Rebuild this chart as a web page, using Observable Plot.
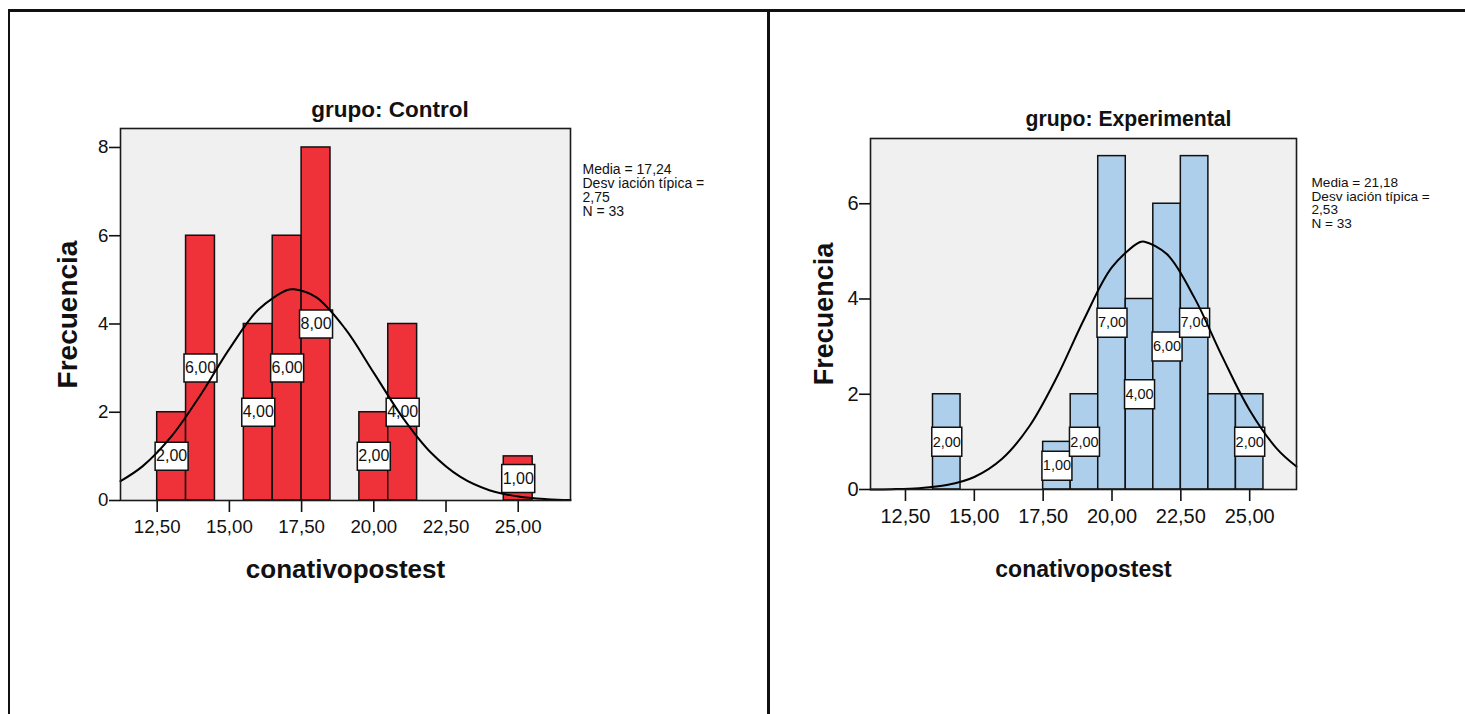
<!DOCTYPE html>
<html><head><meta charset="utf-8">
<script src="https://cdn.jsdelivr.net/npm/d3@7"></script>
<script src="https://cdn.jsdelivr.net/npm/@observablehq/plot@0.6"></script>
<style>
html,body{margin:0;padding:0;background:#fff;width:1465px;height:714px;overflow:hidden;}
#left,#right{position:absolute;top:0;}
#left{left:0;} #right{left:771px;}
.rule{position:absolute;background:#111;z-index:5;}
g[aria-label="stats legend"] text{letter-spacing:1.1px;}
</style></head><body>
<div id="left"></div><div id="right"></div>
<div class="rule" style="left:8px;top:9px;width:1457px;height:2.5px"></div>
<div class="rule" style="left:8px;top:9px;width:2px;height:705px"></div>
<div class="rule" style="left:767px;top:9px;width:3px;height:705px"></div>
<script>
// ---- data ----
const variableName = "conativopostest";
const yLabel = "Frecuencia";
const groupTitles = ["grupo: Control", "grupo: Experimental"];
const controlBins = [13, 14, 16, 17, 18, 20, 21, 25];          // bin centres (width 1)
const controlCounts = [2, 6, 4, 6, 8, 2, 4, 1];
const controlLabelBins = [13, 14, 16, 17, 18, 20, 21, 25];
const experimentalBins = [14, 18, 19, 20, 21, 22, 23, 24, 25];
const experimentalCounts = [2, 1, 2, 7, 4, 6, 7, 2, 2];
const experimentalLabelBins = [14, 18, 19, 20, 21, 22, 23, 25];
const means = [17.24, 21.18];
const stdDevs = [2.75, 2.53];
const ns = [33, 33];
const xTicks = [12.5, 15, 17.5, 20, 22.5, 25];
const controlYTicks = [0, 2, 4, 6, 8];
const experimentalYTicks = [0, 2, 4, 6];
// normal curve points
const controlCurveX = [11.23, 12, 13, 14, 15, 16, 17, 17.24, 18, 19, 20, 21, 22, 23, 24, 25, 26, 26.81];
const controlCurveY = [0.439, 0.779, 1.458, 2.391, 3.435, 4.324, 4.769, 4.787, 4.608, 3.900, 2.893, 1.880, 1.070, 0.534, 0.233, 0.089, 0.030, 0.011];
const experimentalCurveX = [11.23, 12, 13, 14, 15, 16, 17, 18, 19, 20, 21, 21.18, 22, 23, 24, 25, 26, 26.7];
const experimentalCurveY = [0.002, 0.007, 0.028, 0.093, 0.263, 0.640, 1.329, 2.362, 3.590, 4.668, 5.191, 5.204, 4.938, 4.018, 2.796, 1.665, 0.848, 0.482];

const fmt2 = v => v.toFixed(2).replace(".", ",");
const SANS = "'Liberation Sans', Arial, sans-serif";
const NARROW = "'Liberation Sans Narrow', 'Arial Narrow', 'Liberation Sans', sans-serif";

function boxSymbol(w, h) {
  return {draw(ctx) { ctx.moveTo(-w/2, -h/2); ctx.lineTo(w/2, -h/2); ctx.lineTo(w/2, h/2); ctx.lineTo(-w/2, h/2); ctx.closePath(); }};
}

function histogram(c) {
  const bars = c.bins.map((b, i) => ({x1: b - 0.5, x2: b + 0.5, n: c.counts[i], b}));
  const labels = bars.filter(d => c.labelBins.includes(d.b));
  const curve = c.curveX.map((x, i) => ({x, y: c.curveY[i]}));
  const legend = `Media = ${fmt2(c.mean)}\nDesv iación típica =\n${fmt2(c.sd)}\nN = ${c.n}`;
  return Plot.plot({
    width: c.width, height: 714,
    marginLeft: c.ml, marginRight: c.mr, marginTop: c.mt, marginBottom: c.mb,
    style: {fontFamily: SANS, background: "transparent", overflow: "visible"},
    x: {domain: c.xDomain},
    y: {domain: c.yDomain},
    marks: [
      Plot.frame({fill: "#f0f0f0"}),
      Plot.rectY(bars, {x1: "x1", x2: "x2", y: "n", fill: c.color, stroke: "#111", strokeWidth: 1.5}),
      Plot.dot(labels, {x: "b", y: d => d.n / 2, r: 1, symbol: boxSymbol(c.boxW, c.boxH), fill: "white", stroke: "#111", strokeWidth: 1.5}),
      Plot.text(labels, {x: "b", y: d => d.n / 2, text: d => fmt2(d.n), fontFamily: NARROW, fontSize: c.boxFont, fill: "#111"}),
      Plot.line(curve, {x: "x", y: "y", curve: "catmull-rom", stroke: "#000", strokeWidth: 2}),
      Plot.axisX({ticks: xTicks, tickFormat: fmt2, tickSize: 12, tickPadding: c.xPad, fontSize: c.tickFont, fontFamily: c.tickFamily, label: null, strokeWidth: 1.6, stroke: "#111", fill: "#111"}),
      Plot.axisY({ticks: c.yTicks, tickFormat: d => String(d), tickSize: 11, tickPadding: 1, fontSize: c.tickFont, fontFamily: c.tickFamily, label: null, strokeWidth: 1.6, stroke: "#111", fill: "#111"}),
      Plot.frame({stroke: "#1a1a1a", strokeWidth: 1.6}),
      Plot.text([c.title], {text: d => d, frameAnchor: "top", dx: c.titleDx, dy: c.titleDy, lineAnchor: "bottom", fontSize: c.titleFont, fontWeight: "bold", fill: "#111"}),
      Plot.text([legend], {text: d => d, ariaLabel: "stats legend", frameAnchor: "top-right", textAnchor: "start", lineAnchor: "top", dx: c.legDx, dy: c.legDy, lineHeight: 1.0, fontSize: c.legFont, fill: "#111"}),
      Plot.text([yLabel], {text: d => d, frameAnchor: "left", rotate: -90, dx: c.yLabDx, textAnchor: "middle", lineAnchor: "middle", fontSize: c.yLabFont, fontWeight: "bold", fill: "#111"}),
      Plot.text([variableName], {text: d => d, frameAnchor: "bottom", dy: c.xLabDy, lineAnchor: "bottom", fontSize: c.xLabFont, fontWeight: "bold", fill: "#111"})
    ]
  });
}

document.getElementById("left").append(histogram({
  width: 766, ml: 120, mr: 196, mt: 128, mb: 214,
  xDomain: [11.23, 26.81], yDomain: [0, 8.43],
  bins: controlBins, counts: controlCounts, labelBins: controlLabelBins,
  curveX: controlCurveX, curveY: controlCurveY,
  mean: means[0], sd: stdDevs[0], n: ns[0], yTicks: controlYTicks,
  color: "#ef3239", boxW: 33, boxH: 28, boxFont: 16,
  tickFont: 18.7, tickFamily: SANS, xPad: 7,
  title: groupTitles[0], titleDx: 44.6, titleDy: -12, titleFont: 22.5,
  legDx: 12, legDy: 36, legFont: 14,
  yLabDx: -52, yLabFont: 28, xLabDy: 77, xLabFont: 26
}));

document.getElementById("right").append(histogram({
  width: 694, ml: 99, mr: 169, mt: 138, mb: 225,
  xDomain: [11.23, 26.7], yDomain: [0, 7.37],
  bins: experimentalBins, counts: experimentalCounts, labelBins: experimentalLabelBins,
  curveX: experimentalCurveX, curveY: experimentalCurveY,
  mean: means[1], sd: stdDevs[1], n: ns[1], yTicks: experimentalYTicks,
  color: "#aecfec", boxW: 30, boxH: 29, boxFont: 14.5,
  tickFont: 20, tickFamily: NARROW, xPad: 7,
  title: groupTitles[1], titleDx: 45, titleDy: -13, titleFont: 21.2,
  legDx: 15, legDy: 39, legFont: 13.6,
  yLabDx: -46, yLabFont: 27, xLabDy: 87, xLabFont: 23
}));
</script>
</body></html>
